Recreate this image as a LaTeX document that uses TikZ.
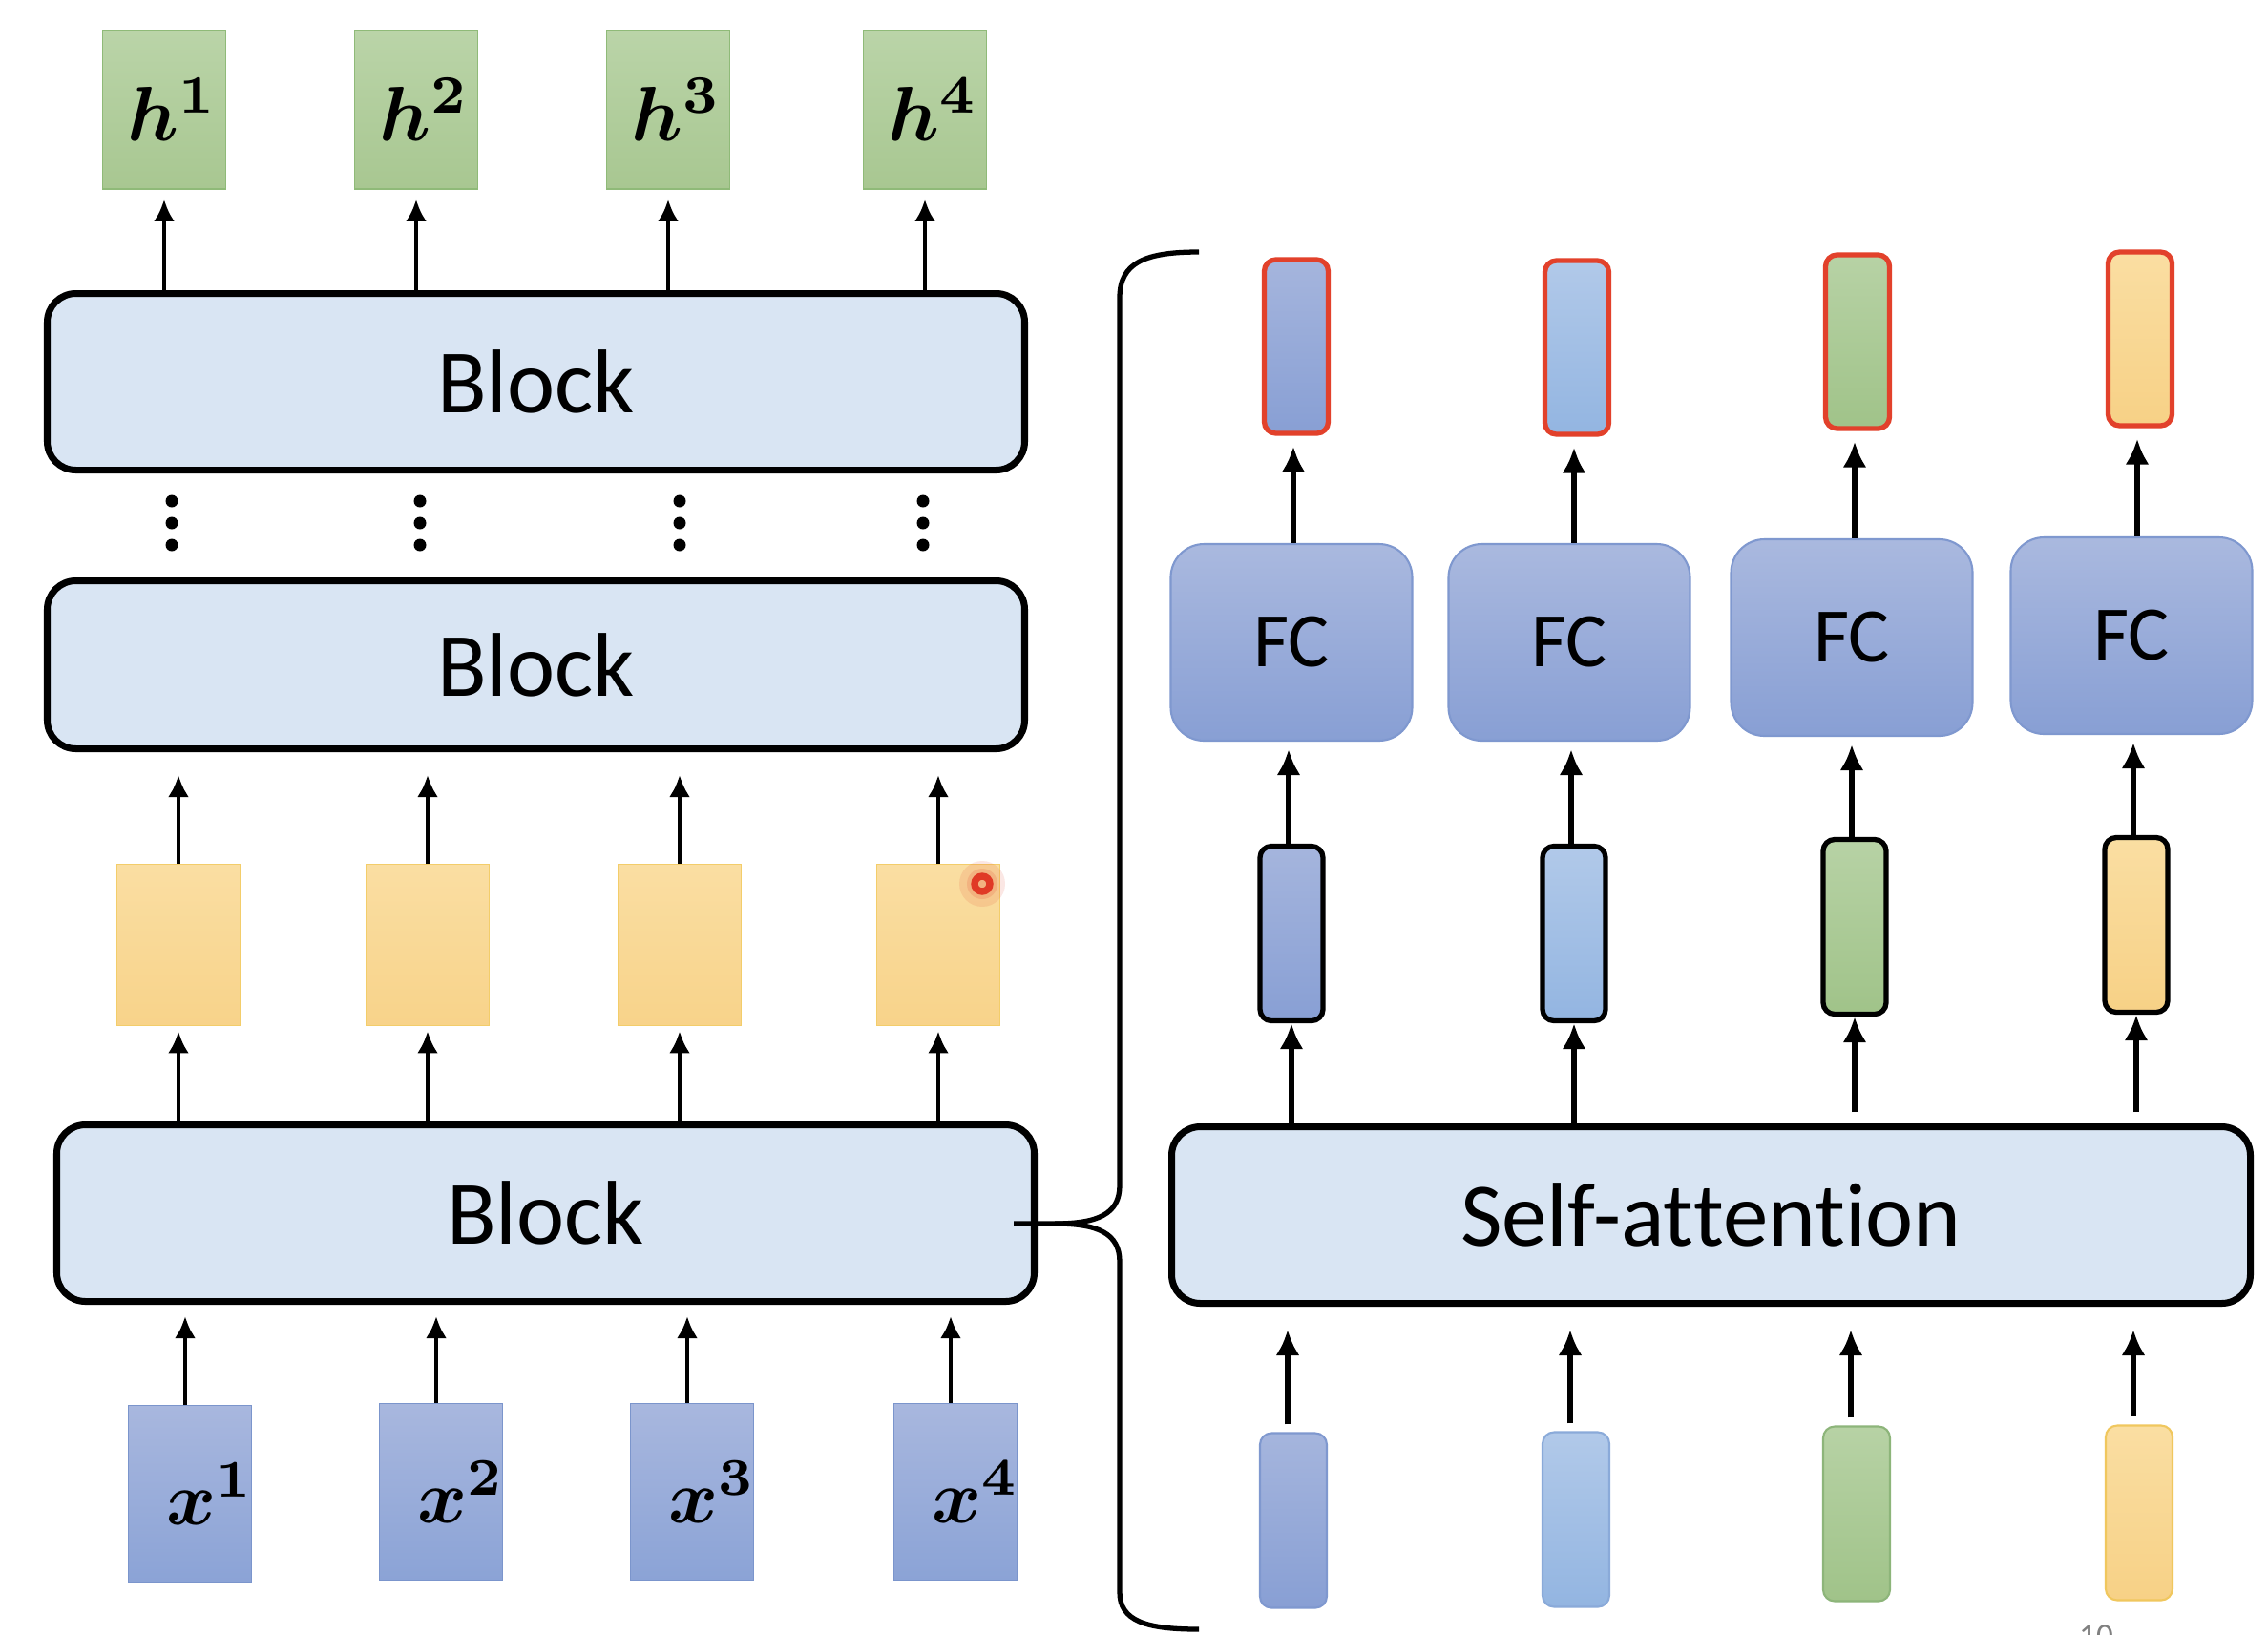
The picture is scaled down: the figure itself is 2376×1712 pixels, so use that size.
\documentclass[tikz,border=0pt]{standalone}
\usepackage{fontspec}
\setmainfont{Carlito}[Ligatures={NoCommon}]
\usetikzlibrary{arrows.meta}
\definecolor{blockfill}{HTML}{D9E5F3}
\definecolor{htop}{HTML}{BAD4A8}
\definecolor{hbot}{HTML}{A8C791}
\definecolor{hborder}{HTML}{8FBA78}
\definecolor{xtop}{HTML}{A8B7DE}
\definecolor{xbot}{HTML}{8BA3D6}
\definecolor{xborder}{HTML}{7B95CC}
\definecolor{ytop}{HTML}{FADEA2}
\definecolor{ybot}{HTML}{F8D38A}
\definecolor{yborder}{HTML}{F3CD6A}
\definecolor{vtop1}{HTML}{A5B5DD}
\definecolor{vbot1}{HTML}{889FD4}
\definecolor{vbrd1}{HTML}{7F98CF}
\definecolor{vtop2}{HTML}{B1C9E9}
\definecolor{vbot2}{HTML}{93B5E1}
\definecolor{vbrd2}{HTML}{8AAAD9}
\definecolor{vtop3}{HTML}{B7D2A5}
\definecolor{vbot3}{HTML}{A0C389}
\definecolor{vbrd3}{HTML}{8DB57A}
\definecolor{vtop4}{HTML}{FADEA2}
\definecolor{vbot4}{HTML}{F7D186}
\definecolor{vbrd4}{HTML}{F0C75E}
\definecolor{redbrd}{HTML}{E2412B}
\definecolor{ptrred}{HTML}{E03A26}
\newcommand{\hlbl}[1]{\makebox[12.9mm][r]{\scalebox{2.3}{$#1$}\hspace*{0.8mm}}}
\newcommand{\xlbl}[1]{\makebox[12.9mm][r]{\scalebox{2.25}{$#1$}\hspace*{-0.3mm}}}
\tikzset{
  blk/.style={draw=black, line width=2pt, rounded corners=3mm, fill=blockfill,
    font=\fontsize{27pt}{32pt}\selectfont, minimum width=102.4mm, minimum height=18.5mm, inner sep=0pt},
  hbox/.style={draw=hborder, line width=0.5pt, top color=htop, bottom color=hbot,
    minimum width=12.9mm, minimum height=16.6mm, inner sep=0pt, font=\boldmath},
  xbox/.style={draw=xborder, line width=0.5pt, top color=xtop, bottom color=xbot,
    minimum width=12.9mm, minimum height=18.5mm, inner sep=0pt, font=\boldmath},
  ybox/.style={draw=yborder, line width=0.5pt, top color=ytop, bottom color=ybot,
    minimum width=12.9mm, minimum height=16.9mm, inner sep=0pt},
  fcbox/.style={draw=vbrd1, line width=0.6pt, top color=vtop1!95!white, bottom color=vbot1,
    rounded corners=3.5mm, minimum width=25.3mm, minimum height=20.6mm, inner sep=0pt,
    font=\fontsize{23pt}{28pt}\selectfont},
  vec/.style={top color=vtop#1, bottom color=vbot#1, rounded corners=1.2mm, inner sep=0pt},
  redvec/.style={vec=#1, draw=redbrd, line width=1.5pt, minimum width=6.7mm, minimum height=18.2mm},
  blkvec/.style={vec=#1, draw=black, line width=1.5pt, minimum width=6.6mm, minimum height=18.3mm},
  plainvec/.style={vec=#1, draw=vbrd#1, line width=0.6pt, minimum width=7mm, minimum height=18.3mm},
  arrL/.style={-{Latex[length=2.3mm,width=2.2mm]}, line width=1.4pt},
  arrR/.style={-{Latex[length=2.7mm,width=2.5mm]}, line width=1.7pt},
}
\begin{document}
\begin{tikzpicture}[x=0.1mm,y=-0.1mm]
\fill[white] (0,0) rectangle (2376,1712);
\useasboundingbox (0,0) rectangle (2376,1712);
\clip (0,0) rectangle (2376,1712);

% ---------- left stack ----------
\node[hbox] (h1) at (172,115) {\hlbl{h^1}};
\node[hbox] (h2) at (436,115) {\hlbl{h^2}};
\node[hbox] (h3) at (700,115) {\hlbl{h^3}};
\node[hbox] (h4) at (969,115) {\hlbl{h^4}};

\node[blk] (blkT) at (561.5,400) {Block};
\node[blk, minimum height=17.6mm] (blkM) at (561.5,696.5) {Block};

\foreach \x in {180,440,712,967}
  \foreach \y in {525,548,571}
    \fill (\x,\y) circle[radius=0.65mm];

\node[ybox] (y1) at (187,990) {};
\node[ybox] (y2) at (448,990) {};
\node[ybox] (y3) at (712,990) {};
\node[ybox] (y4) at (983,990) {};

\node[blk] (blkB) at (571.5,1271) {Block};

\node[xbox] (x1) at (199,1565) {\xlbl{x^1}};
\node[xbox] (x2) at (462,1563) {\xlbl{x^2}};
\node[xbox] (x3) at (725,1563) {\xlbl{x^3}};
\node[xbox] (x4) at (1001,1563) {\xlbl{x^4}};

\foreach \i in {1,2,3,4} {
  \draw[arrL, shorten >=1mm] (blkT.north -| h\i) -- (h\i.south);
  \draw[arrL, shorten >=2.4mm] (y\i.north) -- (y\i.north |- blkM.south);
  \draw[arrL, shorten >=0.5mm] (blkB.north -| y\i) -- (y\i.south);
  \draw[arrL, shorten >=1.2mm] ([xshift=-0.5mm]x\i.north) -- ([xshift=-0.5mm]x\i.north |- blkB.south);
}

% laser pointer mark
\fill[ptrred, opacity=0.12] (1029,926) circle[radius=2.4mm];
\fill[ptrred, opacity=0.15] (1029,926) circle[radius=1.6mm];
\draw[ptrred, line width=2.1pt] (1029,926) circle[radius=0.8mm];

% ---------- brace ----------
\coordinate (bt) at (1062,1282);
\draw[line width=1.5pt]
  (1256,264) .. controls (1200,264) and (1173,275) .. (1173,312)
  -- (1173,1242) .. controls (1173,1272) and (1150,1282) .. (1105,1282) -- (bt);
\draw[line width=1.5pt]
  (1105,1282) .. controls (1150,1282) and (1173,1292) .. (1173,1322)
  -- (1173,1668) .. controls (1173,1698) and (1200,1707) .. (1256,1707);

% ---------- right detail ----------
\node[redvec=1] (r1) at (1358,363) {};
\node[redvec=2] (r2) at (1652,364) {};
\node[redvec=3] (r3) at (1946,358) {};
\node[redvec=4] (r4) at (2242,355) {};

\node[fcbox] (fc1) at (1353,673) {FC};
\node[fcbox] (fc2) at (1644,673) {FC};
\node[fcbox] (fc3) at (1940,668) {FC};
\node[fcbox] (fc4) at (2233,666) {FC};

\node[blkvec=1] (m1) at (1353,978) {};
\node[blkvec=2] (m2) at (1649,978) {};
\node[blkvec=3] (m3) at (1943,971) {};
\node[blkvec=4] (m4) at (2238,969) {};

\node[blk, minimum width=113mm] (sa) at (1792.5,1273) {Self-at\kern0pt tent\kern0pt ion};

\node[plainvec=1] (b1) at (1355,1593) {};
\node[plainvec=2] (b2) at (1651,1592) {};
\node[plainvec=3] (b3) at (1945,1586) {};
\node[plainvec=4] (b4) at (2241,1585) {};

\foreach \i in {1,2,3,4} {
  \draw[arrR, shorten >=1.1mm] ([xshift=-0.3mm]r\i.south |- fc\i.north) -- ([xshift=-0.3mm]r\i.south);
  \draw[arrR, shorten >=0.8mm] ([xshift=-0.3mm]m\i.north) -- ([xshift=-0.3mm]m\i.north |- fc\i.south);
  \draw[arrR, shorten <=0.8mm, shorten >=2.4mm] ([xshift=-0.6mm]b\i.north) -- ([xshift=-0.6mm]b\i.north |- sa.south);
}
\draw[arrR] (sa.north -| m1) -- (m1.south);
\draw[arrR] (sa.north -| m2) -- (m2.south);
\draw[arrR, shorten <=1.2mm] (sa.north -| m3) -- (m3.south);
\draw[arrR, shorten <=1.2mm] (sa.north -| m4) -- (m4.south);

% page number (cut off by the frame, as in the reference)
\node[anchor=north, inner sep=0pt, text=gray, font=\fontsize{10pt}{12pt}\selectfont] (pg) at (2196,1702) {10};
\end{tikzpicture}
\end{document}
